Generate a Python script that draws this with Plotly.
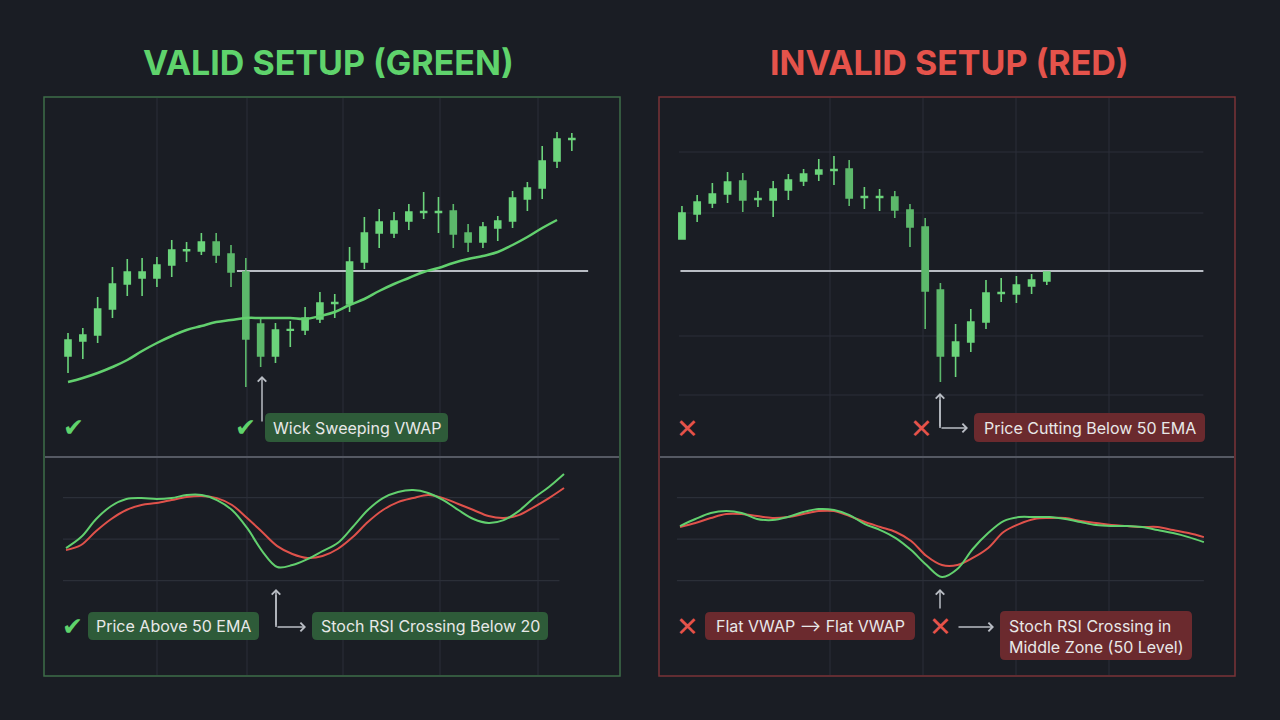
import plotly.graph_objects as go

W, H = 1280, 720

# ---------------- data ----------------
# VALID setup (left): candles, 50 EMA, VWAP level
valid_open  = [78.75, 82.5, 84, 90.5, 96.75, 98.25, 98.25, 101.5, 105.1, 105, 107.25, 104.25, 99.75, 86.75, 78.75,
               85.2, 85.25, 88, 91.9, 91.75, 102.25, 109.5, 109.5, 112.5, 114.65, 114.65, 115, 109.5, 107.25, 110.75,
               112.5, 118, 120.75, 127.5, 132.9]
valid_high  = [84.5, 85.75, 93.5, 101, 103, 103.25, 103.5, 107.75, 107.25, 109.5, 109.5, 106.5, 103.25, 88.25, 87,
               87.5, 91, 94.75, 94.25, 106, 113.5, 115.5, 114.75, 116.75, 119.75, 118.5, 116.75, 111.75, 112.25, 113.75,
               120, 122.25, 131.25, 134.75, 134.5]
valid_low   = [74.5, 78, 82, 88.25, 93.75, 93.75, 96, 98.5, 102.25, 104, 102, 96, 71, 76, 77,
               81, 84, 87, 88.25, 89.75, 100.5, 105.75, 108.25, 110.25, 113, 109.5, 105.75, 104.75, 105.75, 107.5,
               110.75, 115, 118, 125.75, 130]
valid_close = [82.75, 84, 90.5, 96.75, 99.75, 99.75, 101.5, 105.25, 105.3, 107.25, 104, 99.75, 83, 78.75, 85.25,
               85.35, 88.25, 92, 92.1, 102.25, 109.5, 112.25, 112.5, 114.75, 114.85, 114.85, 109.25, 107.25, 111, 112.5,
               118.25, 120.75, 127.5, 133, 133.1]
valid_ema50 = [72.25, 73.25, 74.5, 76, 77.75, 80.0, 82.0, 83.75, 85.25, 86.25, 87.25, 87.75, 88.25, 88.25, 88.25,
               88.25, 88, 88.75, 89.75, 91.5, 93, 95, 96.75, 98.25, 99.75, 100.75, 102, 103, 103.75, 104.75,
               106.5, 108.5, 110.75, 112.75]
valid_vwap = 100.0
valid_vwap_bars = [11.4, 35.1]

# INVALID setup (right): candles, VWAP level
invalid_open  = [108, 114.25, 117, 119.25, 122.5, 117.9, 117.75, 120.25, 122.5, 124.25, 125.15, 125.5, 118.4,
                 118.4, 118.5, 115.25, 111, 95.25, 78.75, 82.25, 87.25, 94.4, 94.25, 96.25, 97.5]
invalid_high  = [116.25, 119, 122, 124.75, 124.5, 120, 122.5, 124.25, 125.5, 128, 128.75, 127.75, 121,
                 120.5, 120, 116.75, 113.25, 97, 86.75, 90.5, 97.75, 98.25, 98.75, 99.25, 99.75]
invalid_low   = [108, 112.25, 115.75, 117, 114.75, 116, 113.5, 117.75, 121.25, 122.5, 121.5, 116.25, 115.5,
                 115, 113.25, 106, 85.5, 72.25, 73.5, 79.75, 85.5, 92.25, 92, 94.25, 96.5]
invalid_close = [114.5, 117.25, 119.25, 122.25, 117.75, 118.1, 120.5, 122.75, 124.25, 125.25, 125.35, 118.25, 118.6,
                 118.6, 115.25, 111, 95, 78.75, 82.25, 87.25, 94.5, 94.6, 96.5, 97.75, 99.75]
invalid_vwap = 100.0
invalid_vwap_bars = [-0.1, 34.3]
invalid_price_grid = [129.75, 114.5, 83.75, 69.0]

# Stoch RSI (green = %K, red = %D)
valid_k = [43.5, 51.4, 64.5, 73.9, 78.9, 79.6, 78.9, 79.6, 81.8, 81.8, 78.2, 71.0, 58.0, 41.3, 29.8, 31.2, 35.5,
           41.3, 47.1, 58.7, 71.0, 79.6, 84.0, 85.4, 83.3, 78.2, 71.0, 64.5, 61.6, 63.7, 70.2, 79.6, 87.6, 97.0]
valid_d = [42.0, 45.7, 55.8, 64.5, 71.0, 74.6, 76.0, 78.2, 80.4, 81.1, 79.6, 74.6, 65.2, 55.1, 44.9, 39.2, 36.3,
           37.7, 42.8, 51.4, 62.3, 71.0, 76.7, 79.6, 81.8, 79.6, 75.3, 71.0, 66.6, 65.2, 67.3, 73.1, 79.6, 86.9]
invalid_k = [59.4, 64.5, 68.8, 70.2, 68.8, 64.5, 63.7, 65.9, 69.5, 71.7, 71.0, 67.3, 60.8, 56.5, 50.7, 42.0, 31.2,
             22.5, 28.3, 42.8, 54.3, 63.0, 65.9, 65.9, 65.9, 64.5, 62.3, 60.1, 59.4, 59.4, 58.7, 56.5, 54.3, 51.4, 47.8]
invalid_d = [58.7, 61.6, 65.2, 68.1, 68.1, 66.6, 65.2, 65.9, 68.1, 70.2, 70.2, 66.6, 62.3, 58.7, 55.1, 48.6, 37.7,
             31.2, 31.2, 36.3, 43.5, 55.1, 60.8, 64.5, 65.2, 65.2, 63.0, 61.6, 60.1, 59.4, 58.7, 58.7, 56.5, 54.3, 51.4]
stoch_levels = [20, 50, 80]

# ---------------- style ----------------
BG = "#1a1d24"
GRID = "#2b2f38"
GREEN = "#6bd47b"
GREEN_DN = "#5cb86b"
LINE_G = "#62d06e"
LINE_R = "#e0524b"
TITLE_G = "#5fd36c"
TITLE_R = "#e5534b"
GRAY = "#b9bdc4"
TXT = "#e8e8e8"
BOX_G = "#2e5b39"
BOX_R = "#6b2a2e"


def px(x):
    return x / W


def py(y):
    return 1 - y / H


def rrect(x0, y0, x1, y1, r=5):
    return (f"M {px(x0 + r)},{py(y0)} L {px(x1 - r)},{py(y0)} Q {px(x1)},{py(y0)} {px(x1)},{py(y0 + r)} "
            f"L {px(x1)},{py(y1 - r)} Q {px(x1)},{py(y1)} {px(x1 - r)},{py(y1)} "
            f"L {px(x0 + r)},{py(y1)} Q {px(x0)},{py(y1)} {px(x0)},{py(y1 - r)} "
            f"L {px(x0)},{py(y0 + r)} Q {px(x0)},{py(y0)} {px(x0 + r)},{py(y0)} Z")


fig = go.Figure()

candle_style = dict(
    increasing=dict(line=dict(color=GREEN, width=1.6), fillcolor=GREEN),
    decreasing=dict(line=dict(color=GREEN_DN, width=1.6), fillcolor=GREEN_DN),
    showlegend=False, hoverinfo="skip", whiskerwidth=0,
)

fig.add_trace(go.Candlestick(x=list(range(len(valid_open))), open=valid_open, high=valid_high,
                             low=valid_low, close=valid_close, xaxis="x", yaxis="y", **candle_style))
fig.add_trace(go.Scatter(x=list(range(len(valid_ema50))), y=valid_ema50, mode="lines",
                         line=dict(color=LINE_G, width=2.5, shape="spline", smoothing=1.2), xaxis="x", yaxis="y",
                         showlegend=False, hoverinfo="skip"))
fig.add_trace(go.Candlestick(x=list(range(len(invalid_open))), open=invalid_open, high=invalid_high,
                             low=invalid_low, close=invalid_close, xaxis="x2", yaxis="y2", **candle_style))

for k, d, xa, ya in [(valid_k, valid_d, "x3", "y3"), (invalid_k, invalid_d, "x4", "y4")]:
    fig.add_trace(go.Scatter(x=list(range(len(d))), y=d, mode="lines",
                             line=dict(color=LINE_R, width=2, shape="spline"), xaxis=xa, yaxis=ya,
                             showlegend=False, hoverinfo="skip"))
    fig.add_trace(go.Scatter(x=list(range(len(k))), y=k, mode="lines",
                             line=dict(color=LINE_G, width=2, shape="spline"), xaxis=xa, yaxis=ya,
                             showlegend=False, hoverinfo="skip"))

ax_common = dict(visible=False, fixedrange=True)
top_dom = [py(457), py(97)]
bot_dom = [py(676), py(457)]
left_dom = [px(44), px(620)]
right_dom = [px(659), px(1235)]

fig.update_layout(
    width=W, height=H, margin=dict(l=0, r=0, t=0, b=0),
    paper_bgcolor=BG, plot_bgcolor="rgba(0,0,0,0)",
    boxgap=0.42,
    xaxis=dict(domain=left_dom, range=[-1.62, 37.25], rangeslider=dict(visible=False), anchor="y", **ax_common),
    yaxis=dict(domain=top_dom, range=[53.5, 143.5], anchor="x", **ax_common),
    xaxis2=dict(domain=right_dom, range=[-1.51, 36.38], rangeslider=dict(visible=False), anchor="y2", **ax_common),
    yaxis2=dict(domain=top_dom, range=[53.5, 143.5], anchor="x2", **ax_common),
    xaxis3=dict(domain=left_dom, range=[-1.458, 36.71], anchor="y3", **ax_common),
    yaxis3=dict(domain=bot_dom, range=[-49.0, 109.3], anchor="x3", **ax_common),
    xaxis4=dict(domain=right_dom, range=[-1.363, 36.02], anchor="y4", **ax_common),
    yaxis4=dict(domain=bot_dom, range=[-49.0, 109.3], anchor="x4", **ax_common),
    font=dict(family="Inter", color=TXT),
)

shapes = []
# vertical grid lines
for gx in [157, 247, 343, 440, 538, 830, 923, 1016, 1109]:
    shapes.append(dict(type="line", xref="paper", yref="paper", x0=px(gx), x1=px(gx), y0=py(98), y1=py(675),
                       line=dict(color=GRID, width=1), layer="below"))
# horizontal price grid (right top)
for g in invalid_price_grid:
    shapes.append(dict(type="line", xref="x2", yref="y2", x0=-0.2, x1=34.3, y0=g, y1=g,
                       line=dict(color=GRID, width=1.2), layer="below"))
# stoch levels
for g in stoch_levels:
    shapes.append(dict(type="line", xref="x3", yref="y3", x0=-0.2, x1=32.7, y0=g, y1=g,
                       line=dict(color=GRID, width=1.2), layer="below"))
    shapes.append(dict(type="line", xref="x4", yref="y4", x0=-0.2, x1=34.0, y0=g, y1=g,
                       line=dict(color=GRID, width=1.2), layer="below"))
# VWAP lines
shapes.append(dict(type="line", xref="x", yref="y", x0=valid_vwap_bars[0], x1=valid_vwap_bars[1],
                   y0=valid_vwap, y1=valid_vwap, line=dict(color=GRAY, width=2), layer="below"))
shapes.append(dict(type="line", xref="x2", yref="y2", x0=invalid_vwap_bars[0], x1=invalid_vwap_bars[1],
                   y0=invalid_vwap, y1=invalid_vwap, line=dict(color=GRAY, width=2), layer="below"))
# panel borders and dividers
shapes.append(dict(type="rect", xref="paper", yref="paper", x0=px(44), x1=px(620), y0=py(676), y1=py(97),
                   line=dict(color="#3e6d48", width=1.5)))
shapes.append(dict(type="rect", xref="paper", yref="paper", x0=px(659), x1=px(1235), y0=py(676), y1=py(97),
                   line=dict(color="#7b3337", width=1.5)))
for x0, x1 in [(45, 619), (660, 1234)]:
    shapes.append(dict(type="line", xref="paper", yref="paper", x0=px(x0), x1=px(x1), y0=py(457), y1=py(457),
                       line=dict(color="#555963", width=2)))
# label boxes
boxes = [
    ((265, 413, 448, 442), BOX_G), ((88, 612, 259, 640), BOX_G), ((312, 612, 548, 640), BOX_G),
    ((974, 413, 1205, 442), BOX_R), ((705, 612, 915, 640), BOX_R), ((1000, 611, 1192, 660), BOX_R),
]
for (x0, y0, x1, y1), c in boxes:
    shapes.append(dict(type="path", xref="paper", yref="paper", path=rrect(x0, y0, x1, y1, 5),
                       fillcolor=c, line=dict(width=0)))
# L-connector vertical segments
for (x, y0, y1) in [(940, 400, 428), (276, 595, 627)]:
    shapes.append(dict(type="line", xref="paper", yref="paper", x0=px(x), x1=px(x), y0=py(y0), y1=py(y1),
                       line=dict(color=GRAY, width=1.5)))
fig.update_layout(shapes=shapes)

ann = []
C = dict(xref="paper", yref="paper", xanchor="center", yanchor="middle", showarrow=False)
# titles
ann.append(dict(x=px(328), y=py(62), text="<b>VALID SETUP (GREEN)</b>",
                font=dict(size=34, color=TITLE_G, family="Inter"), **C))
ann.append(dict(x=px(949), y=py(62), text="<b>INVALID SETUP (RED)</b>",
                font=dict(size=34, color=TITLE_R, family="Inter"), **C))
# box texts
texts = [
    (356.5, 428, "Wick Sweeping VWAP"), (173.5, 626, "Price Above 50 EMA"),
    (430, 626, "Stoch RSI Crossing Below 20"), (1089.5, 428, "Price Cutting Below 50 EMA"),
    (810, 626, "Flat VWAP \u27f6 Flat VWAP"),
]
for x, y, t in texts:
    ann.append(dict(x=px(x), y=py(y), text=t, font=dict(size=16, color=TXT, family="Inter"), **C))
ann.append(dict(x=px(1007), y=py(636), xref="paper", yref="paper",
                text="Stoch RSI Crossing in<br>Middle Zone (50 Level)", showarrow=False, xanchor="left",
                yanchor="middle", align="left", font=dict(size=16, color=TXT, family="Inter")))
# check and cross marks
for x, y in [(73, 427), (245, 427), (72, 626)]:
    ann.append(dict(x=px(x), y=py(y), text="\u2714", font=dict(size=25, color=TITLE_G, family="DejaVu Sans"), **C))
for x, y in [(687, 428), (921, 428), (687, 626), (940, 626)]:
    ann.append(dict(x=px(x), y=py(y), text="\u2715", font=dict(size=27, color=TITLE_R, family="DejaVu Sans"), **C))
# arrows (head position, tail offset in px)
arrows = [
    (262, 376, 0, 47), (940, 393, 0, 35), (968, 428, -28, 0), (276, 589, 0, 38), (306, 627, -30, 0),
    (940, 589, 0, 21), (994, 627, -37, 0),
]
for x, y, axp, ayp in arrows:
    ann.append(dict(x=px(x), y=py(y), xref="paper", yref="paper", text="", showarrow=True,
                    ax=axp, ay=ayp, arrowhead=4, arrowsize=1.1, arrowwidth=1.5, arrowcolor=GRAY,
                    standoff=0, startstandoff=0))
fig.update_layout(annotations=ann)

fig.write_html("out.html")
